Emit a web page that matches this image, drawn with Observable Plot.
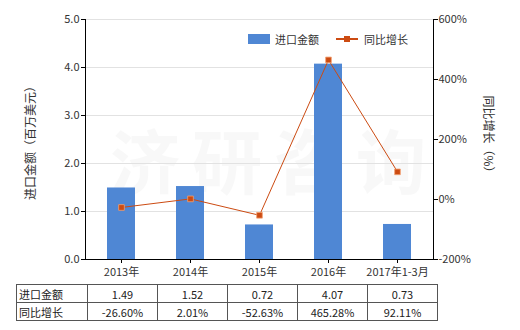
<!DOCTYPE html>
<html><head><meta charset="utf-8">
<script src="https://cdn.jsdelivr.net/npm/d3@7"></script>
<script src="https://cdn.jsdelivr.net/npm/@observablehq/plot@0.6"></script>
<style>
body{margin:0;background:#fff;}
#wrap{position:relative;width:520px;height:330px;font-family:"Noto Sans CJK SC","Noto Sans",sans-serif;color:#333;font-size:11px;overflow:hidden;}
#wrap svg{position:absolute;left:0;top:0;}
.abs{position:absolute;white-space:nowrap;}
.ytitle{font-size:12px;color:#333;}
table{position:absolute;left:16px;top:284px;border-collapse:collapse;font-size:11px;color:#222;}
td{border:1px solid #555;padding:0;height:17px;text-align:center;width:69px;}
td.h{text-align:left;width:68px;padding-left:2px;}
.wm{position:absolute;left:110px;top:108px;font-size:70px;font-weight:bold;color:#000;opacity:0.025;letter-spacing:12px;}
</style></head><body><div id="wrap"></div>
<script>
const categories = ["2013年","2014年","2015年","2016年","2017年1-3月"];
const importValues = [1.49, 1.52, 0.72, 4.07, 0.73];
const growthValues = [-26.60, 2.01, -52.63, 465.28, 92.11];
const importLabels = ["1.49","1.52","0.72","4.07","0.73"];
const growthLabels = ["-26.60%","2.01%","-52.63%","465.28%","92.11%"];
const leftTicks = [0, 1, 2, 3, 4, 5];
const rightTicks = [-200, 0, 200, 400, 600];
const seriesNames = ["进口金额", "同比增长"];
const leftTitle = "进口金额（百万美元）";
const rightTitle = "同比增长（%）";

const toLeft = v => (v + 200) / 800 * 5;
const fromLeft = y => Math.round(y / 5 * 800 - 200);
const data = categories.map((c, i) => ({cat: c, value: importValues[i], growth: growthValues[i]}));

const barColor = "#4f87d4", lineColor = "#cc4b12";

const plot = Plot.plot({
  width: 520, height: 330,
  marginTop: 19, marginBottom: 71, marginLeft: 85, marginRight: 87,
  x: {domain: categories, paddingInner: 0.6, paddingOuter: 0.3},
  y: {domain: [0, 5]},
  style: {fontFamily: '"Noto Sans CJK SC","Noto Sans",sans-serif', fontSize: "11px", color: "#333", background: "transparent"},
  marks: [
    Plot.gridY(leftTicks.slice(1), {stroke: "#e2e2e2", strokeOpacity: 1}),
    Plot.barY(data, {x: "cat", y: "value", fill: barColor}),
    Plot.line(data, {x: "cat", y: d => toLeft(d.growth), stroke: lineColor, strokeWidth: 1}),
    Plot.dot(data, {x: "cat", y: d => toLeft(d.growth), symbol: "square", r: 3.2, fill: lineColor, stroke: "#f2a070", strokeWidth: 0.8}),
    Plot.axisY(leftTicks, {anchor: "left", tickFormat: d => d.toFixed(1), tickSize: 4, tickPadding: 2, label: null, stroke: "#000"}),
    Plot.axisY(rightTicks.map(toLeft), {anchor: "right", tickFormat: d => fromLeft(d) + "%", tickSize: 4, tickPadding: 1, label: null, stroke: "#000"}),
    Plot.axisX({tickSize: 4, tickPadding: 5, label: null, stroke: "#000"}),
    Plot.frame({anchor: "left", stroke: "#000"}),
    Plot.frame({anchor: "right", stroke: "#000"}),
    Plot.frame({anchor: "bottom", stroke: "#000"})
  ]
});

const wrap = document.getElementById("wrap");
const wm = document.createElement("div");
wm.className = "wm"; wm.textContent = "济研咨询";
wrap.appendChild(wm);
wrap.appendChild(plot);

// axis titles
const lt = document.createElement("div");
lt.className = "abs ytitle"; lt.textContent = leftTitle;
lt.style.left = "29px"; lt.style.top = "140px";
lt.style.transform = "translate(-50%,-50%) rotate(-90deg)";
wrap.appendChild(lt);
const rt = document.createElement("div");
rt.className = "abs ytitle"; rt.textContent = rightTitle;
rt.style.left = "489px"; rt.style.top = "137px";
rt.style.transform = "translate(-50%,-50%) rotate(90deg)";
wrap.appendChild(rt);

// legend
const leg = document.createElement("div");
leg.className = "abs"; leg.style.left = "248px"; leg.style.top = "29px"; leg.style.fontSize = "11px";
leg.innerHTML =
  `<span style="display:inline-block;width:22px;height:10px;background:${barColor};vertical-align:middle"></span>` +
  `<span style="margin-left:5px;vertical-align:middle">${seriesNames[0]}</span>` +
  `<span style="display:inline-block;position:relative;width:22px;height:10px;margin-left:17px;vertical-align:middle">` +
  `<span style="position:absolute;left:0;top:4px;width:22px;height:2px;background:${lineColor}"></span>` +
  `<span style="position:absolute;left:8px;top:2px;width:6px;height:6px;background:${lineColor}"></span></span>` +
  `<span style="margin-left:6px;vertical-align:middle">${seriesNames[1]}</span>`;
wrap.appendChild(leg);

// table
const table = document.createElement("table");
const row = (head, vals) => "<tr><td class='h'>" + head + "</td>" + vals.map(v => "<td>" + v + "</td>").join("") + "</tr>";
table.innerHTML = row(seriesNames[0], importLabels) + row(seriesNames[1], growthLabels);
wrap.appendChild(table);
</script></body></html>
